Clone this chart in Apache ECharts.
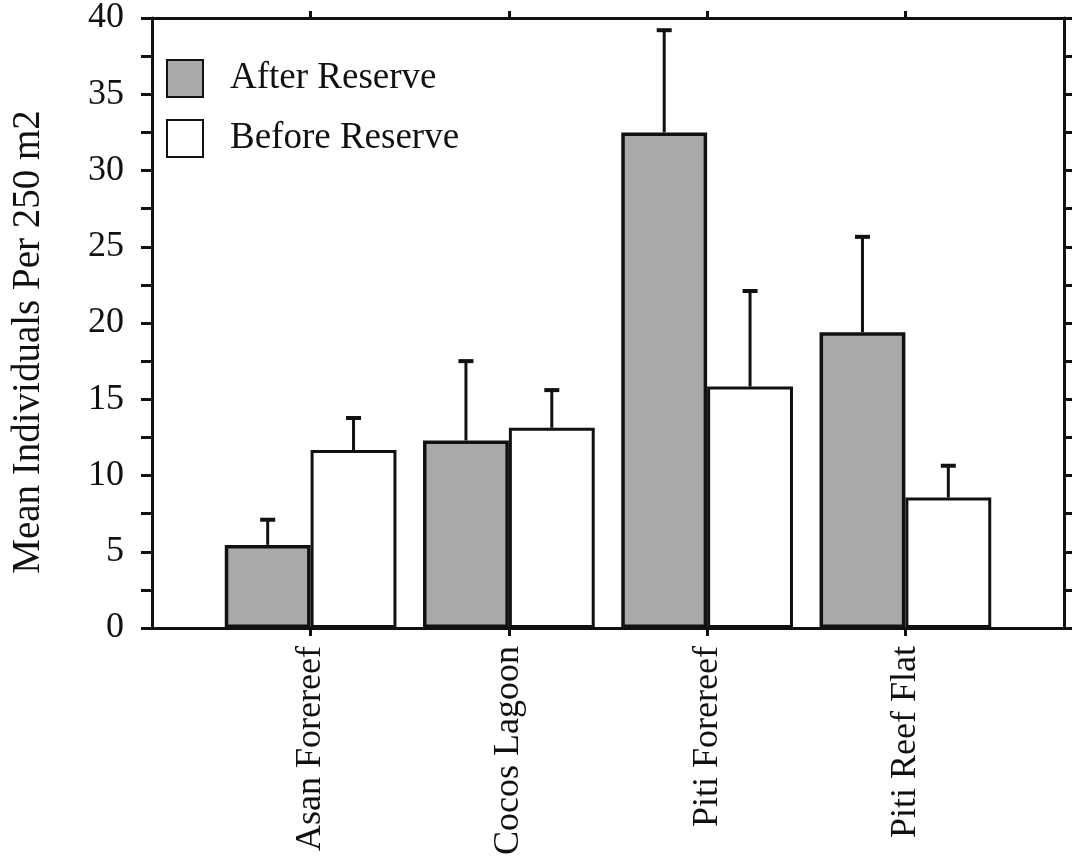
<!DOCTYPE html>
<html>
<head>
<meta charset="utf-8">
<script src="https://cdn.jsdelivr.net/npm/echarts@6/dist/echarts.min.js"></script>
<style>html,body{margin:0;padding:0;background:#fff;}#chart{width:1072px;height:859px;}</style>
</head>
<body>
<div id="chart"></div>
<script>
var categories = ['Asan Forereef', 'Cocos Lagoon', 'Piti Forereef', 'Piti Reef Flat'];
var seriesNames = ['After Reserve', 'Before Reserve'];
var afterMean = [5.45, 12.3, 32.5, 19.4];
var afterErr = [1.65, 5.2, 6.7, 6.25];
var beforeMean = [11.67, 13.13, 15.83, 8.56];
var beforeErr = [2.1, 2.47, 6.27, 2.08];
var yTicks = [0, 5, 10, 15, 20, 25, 30, 35, 40];

var FONT = 'Liberation Serif';
var chart = echarts.init(document.getElementById('chart'));

function pts(vals) { return vals.map(function (v, i) { return [i, v]; }); }
function errData(means, errs) { return means.map(function (m, i) { return [i, m, m + errs[i]]; }); }
var halfOffset = 0.2165;

function errRender(offset) {
  return function (params, api) {
    var x = api.value(0) + offset;
    var p0 = api.coord([x, api.value(1)]);
    var p1 = api.coord([x, api.value(2)]);
    var cw = 7.5;
    return {
      type: 'group',
      children: [
        { type: 'line', shape: { x1: p0[0], y1: p0[1], x2: p1[0], y2: p1[1] }, style: { stroke: '#111', lineWidth: 3 } },
        { type: 'line', shape: { x1: p1[0] - cw, y1: p1[1], x2: p1[0] + cw, y2: p1[1] }, style: { stroke: '#111', lineWidth: 4 } }
      ]
    };
  };
}

var tickVals = categories.map(function (c, i) { return i; });

var option = {
  backgroundColor: '#fff',
  animation: false,
  grid: { left: 152, right: 8, top: 16, bottom: 231, containLabel: false },
  legend: {
    orient: 'vertical', left: 166, top: 59, padding: 0,
    itemWidth: 36, itemHeight: 37, itemGap: 21,
    icon: 'rect',
    textStyle: { fontFamily: FONT, fontSize: 37, color: '#111', padding: [0, 0, 0, 22] },
    data: seriesNames,
    selectedMode: false
  },
  xAxis: [
    {
      type: 'value', min: -0.8, max: 3.8, position: 'bottom',
      axisLine: { show: true, onZero: false, lineStyle: { color: '#111', width: 3 } },
      axisTick: { show: true, customValues: tickVals, length: 8, lineStyle: { color: '#111', width: 3 } },
      axisLabel: {
        show: true, customValues: tickVals, rotate: 90, margin: 18,
        fontFamily: FONT, fontSize: 36, color: '#111',
        formatter: function (v) { return categories[Math.round(v)]; }
      },
      splitLine: { show: false }
    },
    {
      type: 'value', min: -0.8, max: 3.8, position: 'top',
      axisLine: { show: true, onZero: false, lineStyle: { color: '#111', width: 3 } },
      axisTick: { show: true, customValues: tickVals, length: 7, lineStyle: { color: '#111', width: 3 } },
      axisLabel: { show: false },
      splitLine: { show: false }
    }
  ],
  yAxis: [
    {
      type: 'value', min: 0, max: 40, interval: 5, position: 'left',
      name: 'Mean Individuals Per 250 m2', nameLocation: 'middle', nameGap: 104,
      nameTextStyle: { fontFamily: FONT, fontSize: 39, color: '#111', padding: [0, 38, 0, 0] },
      axisLine: { show: true, onZero: false, lineStyle: { color: '#111', width: 3 } },
      axisTick: { show: true, length: 11, lineStyle: { color: '#111', width: 3 } },
      minorTick: { show: true, splitNumber: 2, length: 11, lineStyle: { color: '#111', width: 3 } },
      axisLabel: {
        margin: 28, fontFamily: FONT, fontSize: 36, color: '#111',
        customValues: yTicks
      },
      splitLine: { show: false }
    },
    {
      type: 'value', min: 0, max: 40, interval: 5, position: 'right',
      axisLine: { show: true, onZero: false, lineStyle: { color: '#111', width: 3 } },
      axisTick: { show: true, length: 8, lineStyle: { color: '#111', width: 3 } },
      minorTick: { show: true, splitNumber: 2, length: 8, lineStyle: { color: '#111', width: 3 } },
      axisLabel: { show: false },
      splitLine: { show: false }
    }
  ],
  series: [
    {
      name: seriesNames[0], type: 'bar', xAxisIndex: 0, yAxisIndex: 0,
      barWidth: '43.3%', barGap: '0%',
      itemStyle: { color: '#a9a9a9', borderColor: '#111', borderWidth: 3.5 },
      data: pts(afterMean), z: 2
    },
    {
      name: seriesNames[1], type: 'bar', xAxisIndex: 0, yAxisIndex: 0,
      barWidth: '43.3%', barGap: '0%',
      itemStyle: { color: '#ffffff', borderColor: '#111', borderWidth: 3 },
      data: pts(beforeMean), z: 2
    },
    {
      type: 'custom', xAxisIndex: 0, yAxisIndex: 0, z: 3,
      renderItem: errRender(-halfOffset),
      data: errData(afterMean, afterErr)
    },
    {
      type: 'custom', xAxisIndex: 0, yAxisIndex: 0, z: 3,
      renderItem: errRender(halfOffset),
      data: errData(beforeMean, beforeErr)
    }
  ]
};
chart.setOption(option);
</script>
</body>
</html>
